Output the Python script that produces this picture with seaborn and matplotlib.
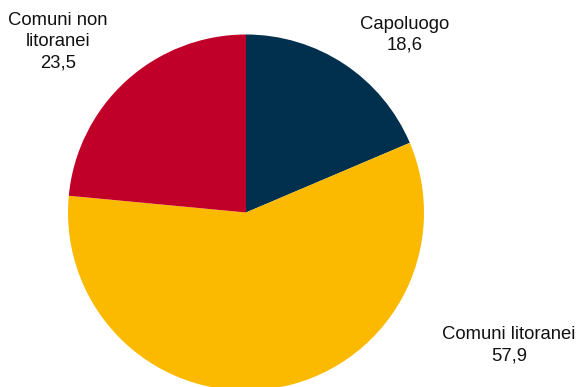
import matplotlib
matplotlib.use("Agg")
import matplotlib.pyplot as plt
import seaborn as sns

categories = ["Capoluogo", "Comuni litoranei", "Comuni non\nlitoranei"]
values = [18.6, 57.9, 23.5]
value_labels = ["18,6", "57,9", "23,5"]
colors = ["#00304E", "#FBBA00", "#C1002A"]

sns.set_theme(style="white")
plt.rcParams["font.family"] = ["Liberation Sans", "DejaVu Sans"]

fig = plt.figure(figsize=(5.77, 3.87), dpi=100)
ax = fig.add_axes([68 / 577, (387 - 390.5) / 387, 356 / 577, 356 / 387])

wedges, _ = ax.pie(values, colors=colors, startangle=90, counterclock=False,
                   wedgeprops=dict(linewidth=0))
ax.set_xlim(-1, 1)
ax.set_ylim(-1, 1)
ax.set_aspect("equal")
ax.axis("off")

label_pos = [(0.893, 1.0), (1.478, -0.745), (-1.057, 0.96)]
for cat, val, (x, y) in zip(categories, value_labels, label_pos):
    ax.text(x, y, f"{cat}\n{val}", ha="center", va="center", fontsize=13.3,
            linespacing=1.3, color="#111111", clip_on=False)

fig.savefig("out.png", dpi=100, facecolor="white")
